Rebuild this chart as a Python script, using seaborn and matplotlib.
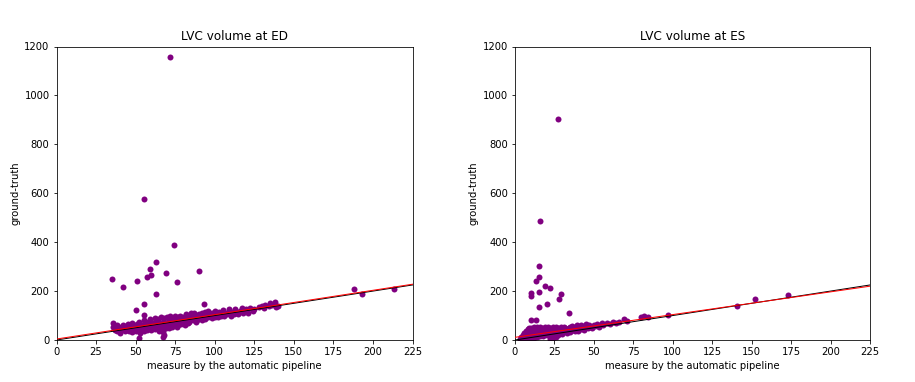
import matplotlib
matplotlib.use("Agg")
import matplotlib.pyplot as plt
import seaborn as sns
import pandas as pd

# LVC volume at ED: (automatic pipeline, ground-truth)
ed_points = [
    (36, 70), (36, 55), (37, 40), (37, 48), (38, 35), (38, 60), (39, 45), (39, 52), (40, 38), (40, 30),
    (41, 55), (41, 42), (42, 62), (42, 48), (43, 35), (43, 50), (44, 58), (44, 40), (45, 47), (45, 65),
    (46, 38), (46, 55), (47, 60), (47, 45), (48, 33), (48, 70), (49, 52), (49, 42), (50, 58), (50, 35),
    (51, 65), (51, 48), (52, 40), (52, 72), (53, 55), (53, 30), (54, 62), (54, 45), (55, 80), (55, 38),
    (56, 68), (56, 50), (57, 42), (58, 75), (58, 58), (59, 48), (59, 85), (60, 62), (60, 40), (61, 70),
    (61, 52), (62, 90), (62, 45), (63, 78), (63, 60), (64, 50), (64, 85), (65, 68), (65, 35), (66, 92),
    (66, 55), (67, 75), (67, 42), (68, 60), (68, 88), (69, 70), (69, 48), (70, 95), (70, 58), (71, 80),
    (71, 50), (72, 65), (72, 98), (73, 72), (73, 55), (74, 85), (74, 60), (75, 100), (75, 68), (76, 78),
    (76, 55), (77, 92), (77, 62), (78, 70), (78, 100), (79, 82), (79, 65), (80, 95), (80, 72), (81, 62),
    (81, 88), (82, 105), (82, 78), (83, 70), (83, 92), (84, 100), (84, 75), (85, 85), (85, 110), (86, 80),
    (86, 98), (87, 112), (87, 88), (88, 75), (88, 102), (89, 95), (89, 82), (90, 105), (91, 88), (92, 110),
    (92, 80), (93, 98), (94, 115), (94, 85), (95, 102), (96, 92), (96, 118), (97, 105), (98, 88), (98, 112),
    (99, 100), (100, 120), (100, 95), (101, 108), (102, 92), (103, 115), (104, 100), (105, 122), (106, 98),
    (107, 112), (108, 105), (109, 125), (110, 100), (111, 115), (112, 108), (113, 128), (114, 112),
    (115, 105), (116, 120), (117, 130), (118, 110), (119, 118), (120, 125), (121, 112), (122, 132),
    (124, 120), (125, 128), (128, 135), (130, 140), (131, 130), (132, 145), (134, 138), (135, 150),
    (136, 142), (138, 155), (139, 135), (140, 140),
    # outliers
    (72, 1156), (55, 578), (74, 390), (63, 317), (59, 290), (60, 265), (57, 258), (69, 272), (90, 283),
    (35, 248), (42, 215), (51, 241), (76, 238), (63, 189), (55, 146), (50, 121), (55, 102), (93, 146),
    (52, 10), (67, 11), (68, 20), (67, 34), (188, 208), (193, 190), (213, 208),
]

# LVC volume at ES: (automatic pipeline, ground-truth)
es_points = [
    (3, 5), (4, 2), (4, 12), (5, 8), (5, 20), (6, 3), (6, 15), (6, 28), (7, 10), (7, 22), (7, 38),
    (8, 5), (8, 18), (8, 32), (8, 45), (9, 12), (9, 25), (9, 50), (10, 8), (10, 20), (10, 35), (10, 48),
    (11, 15), (11, 28), (11, 42), (12, 10), (12, 22), (12, 38), (12, 52), (13, 18), (13, 30), (13, 45),
    (14, 12), (14, 25), (14, 40), (14, 55), (15, 20), (15, 32), (15, 48), (16, 15), (16, 28), (16, 42),
    (16, 55), (17, 22), (17, 35), (17, 50), (18, 18), (18, 30), (18, 45), (19, 25), (19, 38), (19, 52),
    (20, 20), (20, 32), (20, 48), (21, 28), (21, 42), (21, 55), (22, 22), (22, 35), (22, 50), (22, 5),
    (23, 30), (23, 45), (24, 25), (24, 38), (24, 52), (24, 8), (25, 32), (25, 48), (25, 15), (26, 28),
    (26, 42), (26, 55), (26, 12), (27, 35), (27, 50), (27, 20), (28, 30), (28, 45), (29, 38), (29, 52),
    (30, 32), (30, 48), (30, 25), (31, 40), (31, 55), (32, 35), (32, 50), (33, 42), (33, 28), (34, 48),
    (34, 38), (35, 55), (35, 32), (36, 45), (36, 58), (37, 40), (38, 52), (38, 35), (39, 45), (39, 60),
    (40, 50), (40, 38), (41, 55), (42, 45), (42, 62), (43, 50), (44, 58), (44, 42), (45, 52), (45, 65),
    (46, 48), (47, 60), (48, 55), (49, 50), (50, 62), (51, 58), (52, 65), (53, 55), (55, 70), (56, 62),
    (58, 68), (60, 65), (62, 72), (64, 68), (66, 75),
    # outliers
    (27, 905), (16, 485), (15, 303), (15, 258), (13, 241), (19, 220), (22, 211), (10, 193), (10, 180),
    (15, 195), (29, 190), (28, 166), (15, 136), (20, 146), (34, 111), (10, 82), (13, 82),
    (69, 84), (71, 79), (80, 95), (82, 98), (84, 92), (97, 102), (141, 140), (152, 166), (173, 182),
]

# fitted lines (intercept, slope) and identity line
ed_fit = (4, 0.996)
es_fit = (11, 0.929)
line_x = [0, 225]

x_ticks = [0, 25, 50, 75, 100, 125, 150, 175, 200, 225]
y_ticks = [0, 200, 400, 600, 800, 1000, 1200]

W, H = 915, 382
fig = plt.figure(figsize=(W / 72, H / 72), dpi=72)
ax1 = fig.add_axes([56.5 / W, 1 - 340 / H, 356 / W, 293.5 / H])
ax2 = fig.add_axes([515 / W, 1 - 340 / H, 355 / W, 293.5 / H])

panels = [(ax1, ed_points, ed_fit, "LVC volume at ED"),
          (ax2, es_points, es_fit, "LVC volume at ES")]

for ax, pts, fit, title in panels:
    df = pd.DataFrame(pts, columns=["auto", "truth"])
    sns.scatterplot(data=df, x="auto", y="truth", color="purple", s=36,
                    linewidth=0, ax=ax, zorder=2)
    ax.plot(line_x, line_x, color="black", lw=1, zorder=3)
    ax.plot(line_x, [fit[0] + fit[1] * v for v in line_x], color="red", lw=1, zorder=4)
    ax.set_xlim(0, 225)
    ax.set_ylim(0, 1200)
    ax.set_xticks(x_ticks)
    ax.set_yticks(y_ticks)
    ax.set_title(title, fontsize=12)
    ax.set_xlabel("measure by the automatic pipeline")
    ax.set_ylabel("ground-truth")

fig.savefig("out.png", dpi=72, facecolor="white")
